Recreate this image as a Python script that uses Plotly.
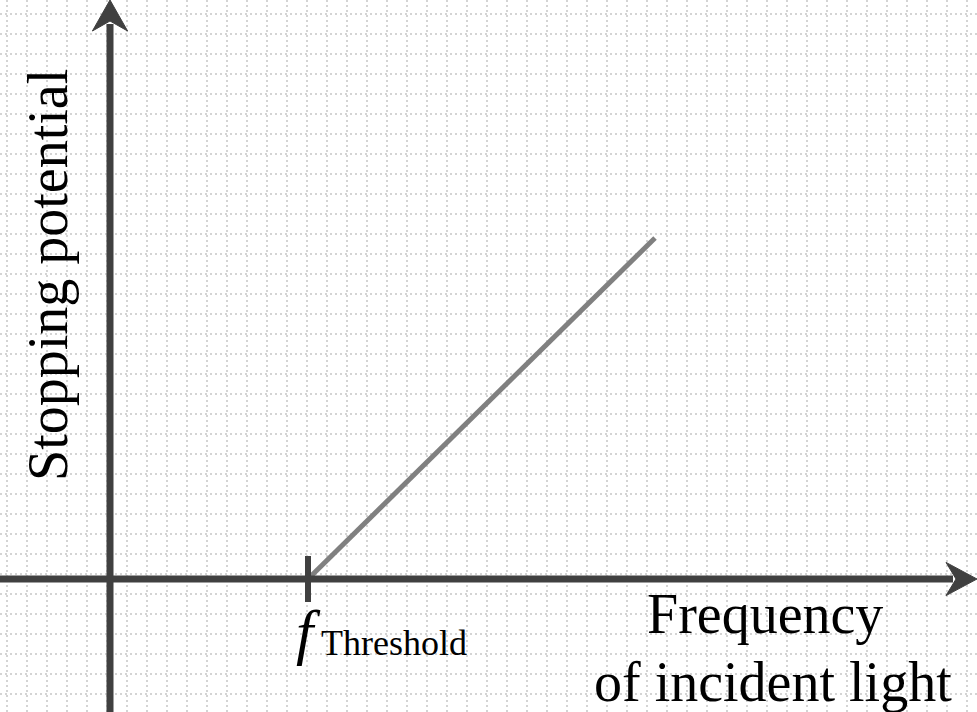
import plotly.graph_objects as go

# ---- data (in grid units; one grid square = 1 unit) ----
threshold_freq = 9.9          # f_Threshold on the frequency axis
line_freq = [9.9, 27.25]      # frequency values of the drawn line
line_potential = [0.0, 17.05] # stopping potential values of the drawn line

x_label = ["Frequency", "of incident light"]
y_label = "Stopping potential"
threshold_symbol = "<i>f</i>"
threshold_sub = "Threshold"

# ---- axis extents ----
x_range = [-5.5, 43.35]
y_range = [-6.65, 28.95]

AXIS_COLOR = "#404040"
LINE_COLOR = "#808080"
GRID_COLOR = "#d4d4d4"
FONT = "Liberation Serif"

fig = go.Figure()

fig.add_trace(go.Scatter(
    x=line_freq, y=line_potential, mode="lines",
    line=dict(color=LINE_COLOR, width=5), hoverinfo="skip", showlegend=False,
))

shapes = []
# y axis shaft
shapes.append(dict(type="line", xref="x", yref="y", x0=0, x1=0,
                   y0=y_range[0], y1=y_range[1] - 1.2,
                   line=dict(color=AXIS_COLOR, width=7), layer="above"))
# x axis shaft
shapes.append(dict(type="line", xref="x", yref="y", x0=x_range[0], x1=x_range[1] - 1.2,
                   y0=0, y1=0, line=dict(color=AXIS_COLOR, width=7), layer="above"))
# arrowheads
ty = y_range[1]
shapes.append(dict(type="path", xref="x", yref="y", layer="above",
                   path=f"M 0 {ty} L 0.88 {ty-1.55} L 0 {ty-1.05} L -0.88 {ty-1.55} Z",
                   fillcolor=AXIS_COLOR, line=dict(color=AXIS_COLOR, width=1)))
tx = x_range[1]
shapes.append(dict(type="path", xref="x", yref="y", layer="above",
                   path=f"M {tx} 0 L {tx-1.55} 0.83 L {tx-1.05} 0 L {tx-1.55} -0.83 Z",
                   fillcolor=AXIS_COLOR, line=dict(color=AXIS_COLOR, width=1)))
# threshold tick
shapes.append(dict(type="line", xref="x", yref="y", x0=threshold_freq, x1=threshold_freq,
                   y0=-1.15, y1=1.15, line=dict(color=AXIS_COLOR, width=6), layer="above"))

annotations = [
    dict(x=-3.1, y=15.2, xref="x", yref="y", text=y_label, textangle=-90,
         showarrow=False, font=dict(family=FONT, size=56, color="black"),
         xanchor="center", yanchor="middle"),
    dict(x=(765 - 110) / 20, y=(579 - 614) / 20, xref="x", yref="y", text=x_label[0],
         showarrow=False, font=dict(family=FONT, size=56, color="black"),
         xanchor="center", yanchor="middle"),
    dict(x=(773 - 110) / 20, y=(579 - 682) / 20, xref="x", yref="y", text=x_label[1],
         showarrow=False, font=dict(family=FONT, size=56, color="black"),
         xanchor="center", yanchor="middle"),
    dict(x=(308 - 110) / 20, y=(579 - 632) / 20, xref="x", yref="y", text=threshold_symbol,
         showarrow=False, font=dict(family=FONT, size=62, color="black"),
         xanchor="center", yanchor="middle"),
    dict(x=(394 - 110) / 20, y=(579 - 643) / 20, xref="x", yref="y", text=threshold_sub,
         showarrow=False, font=dict(family=FONT, size=36, color="black"),
         xanchor="center", yanchor="middle"),
]

grid = dict(showgrid=True, gridcolor=GRID_COLOR, gridwidth=2, griddash="2px,3px",
            zeroline=False, showticklabels=False, ticks="", showline=False, dtick=1)

fig.update_layout(
    width=977, height=712, margin=dict(l=0, r=0, t=0, b=0),
    paper_bgcolor="white", plot_bgcolor="white",
    xaxis=dict(range=x_range, tick0=-5.15, **grid),
    yaxis=dict(range=y_range, tick0=0.25, **grid),
    shapes=shapes, annotations=annotations, showlegend=False,
)

fig.write_html(
    "out.html",
    config={"displayModeBar": False},
    post_script="document.body.style.margin='0';document.body.style.overflow='hidden';",
)
